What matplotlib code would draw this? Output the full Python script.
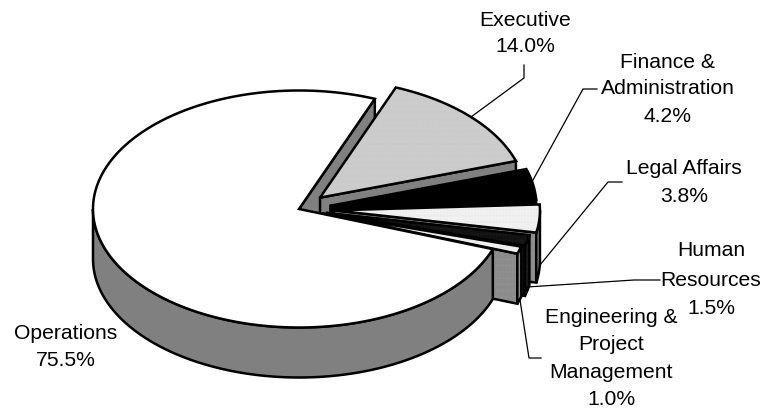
import numpy as np
from matplotlib import pyplot as plt
from matplotlib.patches import Polygon

plt.rcParams["font.family"] = ["Liberation Sans", "DejaVu Sans"]
plt.rcParams["hatch.linewidth"] = 0.5

categories = ["Operations", "Executive", "Finance &\nAdministration", "Legal Affairs",
              "Human\nResources", "Engineering &\nProject\nManagement"]
shares = [75.5, 14.0, 4.2, 3.8, 1.5, 1.0]
explode = [0.0, 0.14, 0.155, 0.17, 0.14, 0.125]

# top face colour, side colour, dots on top, dots on side
top_colors = ["#ffffff", "#c6c6c6", "#000000", "#ffffff", "#000000", "#ffffff"]
side_colors = ["#808080", "#808080", "#000000", "#808080", "#000000", "#808080"]
top_dots = [None, "#d4d4d4", None, "#d8d8d8", "#303030", "#d8d8d8"]
side_dots = [None, None, None, "#a0a0a0", "#404040", "#a0a0a0"]

# pie geometry in pixels
cx, cy = 299, 209
rx, ry = 206, 118.5
depth = 50
start_angle = 68.4

fig = plt.figure(figsize=(7.64, 4.11), dpi=100)
ax = fig.add_axes([0, 0, 1, 1])
ax.set_xlim(0, 764)
ax.set_ylim(411, 0)
ax.axis("off")


def project(angle, off):
    a = np.radians(angle)
    return np.column_stack([off[0] + rx * np.cos(a), off[1] - ry * np.sin(a)])


def shape(pts, color, dots, z):
    ax.add_patch(Polygon(pts, closed=True, facecolor=color, edgecolor=dots if dots else color,
                         hatch="." * 14 if dots else None, linewidth=0, zorder=z))
    ax.add_patch(Polygon(pts, closed=True, fill=False, edgecolor="black", linewidth=1.8,
                         joinstyle="miter", zorder=z))


def down(pts):
    return pts + np.array([0, depth])


# slices run clockwise from start_angle except Operations, which takes the long way round
spans = np.array(shares) / sum(shares) * 360
slices = []
hi_edge = start_angle
for i in range(1, len(shares)):
    lo_edge = hi_edge - spans[i]
    slices.append((i, lo_edge, hi_edge))
    hi_edge = lo_edge
ops_lo, ops_hi = start_angle, start_angle + spans[0]

# Operations cut face goes behind everything
c0 = (cx, cy)
edge = project(np.array([ops_lo]), c0)
shape(np.vstack([[c0], edge, down(edge), down(np.array([c0]))]), side_colors[0], None, 1)

z = 2
for i, a0, a1 in slices:
    mid = np.radians((a0 + a1) / 2)
    off = (cx + explode[i] * rx * np.cos(mid), cy - explode[i] * ry * np.sin(mid))
    c = np.array([off])
    # cut face on the clockwise side
    edge = project(np.array([a0]), off)
    shape(np.vstack([c, edge, down(edge), down(c)]), side_colors[i], side_dots[i], z)
    # outer wall, only the part that faces the viewer
    if a0 < 0:
        arc = project(np.linspace(a0, min(a1, 0), 20), off)
        shape(np.vstack([arc, down(arc)[::-1]]), side_colors[i], side_dots[i], z)
    # top face
    arc = project(np.linspace(a0, a1, 60), off)
    shape(np.vstack([c, arc]), top_colors[i], top_dots[i], z + 1)
    z += 2

# Operations wall and top sit in front of the exploded slices
wall = project(np.linspace(180, ops_hi, 120), c0)
shape(np.vstack([wall, down(wall)[::-1]]), side_colors[0], None, z)
arc = project(np.linspace(ops_lo, ops_hi, 240), c0)
shape(np.vstack([[c0], arc]), top_colors[0], None, z + 1)

# leader lines
leaders = [
    ([471, 524, 524], [117, 78, 65]),
    ([533, 583, 597], [180, 89, 89]),
    ([540, 608, 622], [265, 182, 182]),
    ([527, 634, 660], [287, 280, 280]),
    ([520, 529, 541], [300, 358, 358]),
]
for xs, ys in leaders:
    ax.plot(xs, ys, color="black", lw=0.9, zorder=20)

# labels, one centre per line
label_x = [66, 525, 668, 684, 711, 611]
label_y = [[333, 360], [20, 47], [62, 89, 116], [168, 196], [250, 280, 308], [317, 344, 372, 399]]
for name, share, x, ys in zip(categories, shares, label_x, label_y):
    lines = name.split("\n") + [f"{share:.1f}%"]
    for line, y in zip(lines, ys):
        ax.text(x, y, line, ha="center", va="center", fontsize=15.2, color="black", zorder=21)

fig.savefig("out.png", dpi=100)
